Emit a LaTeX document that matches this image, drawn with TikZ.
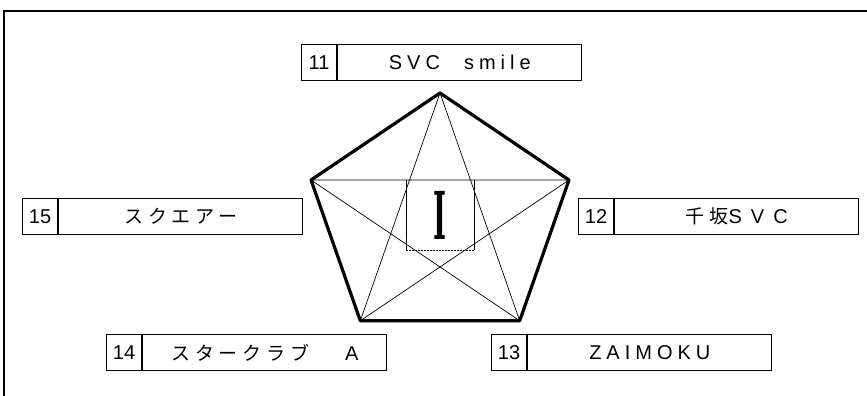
\documentclass[tikz,border=0pt]{standalone}
\usepackage{fontspec}
\usepackage{graphicx}
\usetikzlibrary{positioning}
\newfontfamily\numfont{Liberation Sans}
\newfontfamily\latfont[LetterSpace=25]{Liberation Sans}
\newfontfamily\jpfont[LetterSpace=25]{Noto Sans CJK JP}
\newfontfamily\romanfont{DejaVu Serif}
\newcommand{\jtext}[1]{{\jpfont\fontsize{19}{24}\selectfont #1}}
\tikzset{
    numcell/.style={draw, line width=1.2pt, minimum width=35pt, minimum height=36pt,
        inner sep=0pt, font=\numfont\fontsize{20}{24}\selectfont},
    namecell/.style={draw, line width=1.2pt, minimum width=244pt, minimum height=36pt,
        inner sep=0pt, font=\latfont\fontsize{20}{24}\selectfont},
}
\begin{document}
\begin{tikzpicture}[x=1pt, y=-1pt]
    \useasboundingbox (0,0) rectangle (867,396);
    % Frame
    \draw[line width=2pt] (4,396) -- (4,11) -- (867,11);

    % Pentagon corners
    \foreach \k in {1,...,5} {
        \pgfmathsetmacro{\a}{18+72*\k}
        \coordinate (p\k) at ({440+135.6*cos(\a)}, {218.9-125.9*sin(\a)});
    }
    % Star
    \draw[line width=0.7pt] (p1) -- (p3) -- (p5) -- (p2) -- (p4) -- cycle;
    % Pentagon
    \draw[line width=3.2pt, line join=round] (p1) -- (p2) -- (p3) -- (p4) -- (p5) -- cycle;

    % Centre panel
    \node[minimum width=68pt, minimum height=70pt, inner sep=0pt, anchor=north,
        font=\romanfont\bfseries\fontsize{66}{66}\selectfont] (panel) at (440,180) {\scalebox{0.42}[1]{I}};
    \draw[line width=0.5pt] (panel.north west) -- (panel.south west);
    \draw[line width=0.5pt] (panel.north east) -- (panel.south east);
    \draw[line width=0.5pt, densely dotted] (panel.south west) -- (panel.south east);

    % Teams
    \node[numcell, anchor=north west] (n11) at (301,44) {11};
    \node[namecell, right=0pt of n11] (t11) {SVC\hspace{1.2em}smile};
    \node[numcell, anchor=north west] (n12) at (578,198) {12};
    \node[namecell, right=0pt of n12] (t12) {\jtext{千坂}\addfontfeatures{LetterSpace=45}SVC};
    \node[numcell, anchor=north west] (n13) at (491,334) {13};
    \node[namecell, right=0pt of n13] (t13) {ZAIMOKU};
    \node[numcell, anchor=north west] (n14) at (106,334) {14};
    \node[namecell, right=0pt of n14] (t14) {\jtext{スタークラブ}\hspace{1.8em}A};
    \node[numcell, anchor=north west] (n15) at (22,198) {15};
    \node[namecell, right=0pt of n15] (t15) {\jtext{スクエアー}};
\end{tikzpicture}
\end{document}
